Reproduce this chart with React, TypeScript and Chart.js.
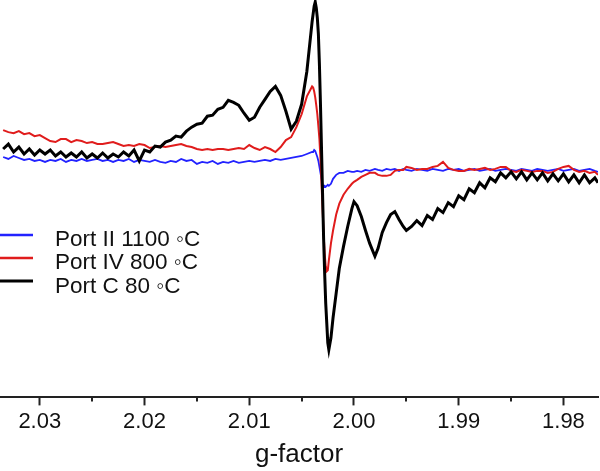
import React, { useEffect, useRef } from "react";
import { Chart, registerables } from "chart.js";

Chart.register(...registerables);

// g-factor sampling positions (x axis, reversed)
const gFactor = [
  2.0335, 2.033, 2.0325, 2.032, 2.0315, 2.031, 2.0305, 2.03, 2.0295, 2.029,
  2.0285, 2.028, 2.0275, 2.027, 2.0265, 2.026, 2.0255, 2.025, 2.0245, 2.024,
  2.0235, 2.023, 2.0225, 2.022, 2.0215, 2.021, 2.0205, 2.02, 2.0195, 2.019,
  2.0185, 2.018, 2.0175, 2.017, 2.0165, 2.016, 2.0155, 2.015, 2.0145, 2.014,
  2.0135, 2.013, 2.0125, 2.012, 2.0115, 2.011, 2.0105, 2.01, 2.0095, 2.009,
  2.0085, 2.008, 2.0075, 2.007, 2.0065, 2.006, 2.0055, 2.005, 2.0045, 2.004,
  2.0039, 2.0038, 2.0037, 2.0036, 2.0035, 2.0034, 2.0033, 2.0032, 2.0031, 2.003,
  2.0029, 2.0028, 2.0027, 2.0026, 2.0025, 2.0024,
  2.0022, 2.002, 2.0017, 2.0014, 2.001, 2.0006, 2.0002, 2.0, 1.9997, 1.9993,
  1.9989, 1.9985, 1.998, 1.9977, 1.9973, 1.9969, 1.9965, 1.9961, 1.9957, 1.9953, 1.995,
  1.9945, 1.994, 1.9935, 1.993, 1.9925, 1.992, 1.9915, 1.991, 1.9905, 1.99,
  1.9895, 1.989, 1.9885, 1.988, 1.9875, 1.987, 1.9865, 1.986, 1.9855, 1.985,
  1.9845, 1.984, 1.9835, 1.983, 1.9825, 1.982, 1.9815, 1.981, 1.9805, 1.98,
  1.9795, 1.979, 1.9785, 1.978, 1.9775, 1.977,
  1.9767,
];

// EPR signal (arbitrary units)
const portII = [
  2, 0, 3, 1, -1, 0, -2, -1, -3, -1,
  -2, 0, -3, -1, -2, 0, -2, -1, 0, -2,
  -1, -3, -1, -2, 0, -3, -1, -2, -3, -1,
  -3, -4, -2, -3, 0, -2, -1, -5, -3, -4,
  -2, -5, -3, -4, -2, -4, -3, -2, -3, -2,
  -1, -2, 0, -1, 0, 1, 2, 3, 5, 7,
  7, 9, 8, 5, 2, -2, -8, -14, -20, -26,
  -28, -27, -28, -27, -26, -27,
  -25, -20, -16, -14, -14, -12, -13, -13, -12, -13,
  -11, -12, -10, -11, -12, -10, -11, -10, -12, -10, -11,
  -12, -10, -11, -12, -10, -11, -12, -10, -11, -10,
  -12, -11, -10, -12, -11, -10, -12, -11, -10, -11,
  -12, -10, -11, -12, -10, -11, -12, -11, -10, -12,
  -11, -10, -12, -11, -10, -12,
  -13,
];

const portIV = [
  29, 27, 26, 28, 25, 26, 23, 24, 21, 18,
  17, 20, 20, 17, 19, 18, 16, 17, 15, 15,
  16, 17, 15, 13, 14, 13, 15, 14, 11, 12,
  13, 12, 13, 14, 15, 13, 12, 10, 9, 10,
  9, 10, 10, 9, 10, 11, 10, 14, 11, 9,
  12, 10, 7, 12, 19, 22, 32, 45, 63, 73,
  72, 68, 62, 54, 45, 33, 20, 0, -25, -50,
  -75, -95, -108, -113, -112, -102,
  -85, -72, -56, -45, -36, -30, -25, -23, -21, -18,
  -16, -14, -14, -16, -17, -17, -16, -12, -11, -11, -8,
  -9, -11, -10, -10, -8, -7, -3, -9, -11, -12,
  -12, -10, -11, -10, -9, -11, -10, -8, -8, -12,
  -13, -11, -12, -13, -12, -12, -14, -13, -10, -8,
  -7, -11, -13, -12, -14, -13,
  -16,
];

const portC = [
  10, 15, 7, 12, 5, 10, 4, 9, 5, 9,
  3, 7, 2, 6, 2, 7, 1, 5, 1, 6,
  1, 5, 2, 7, 3, 9, -2, 9, 7, 13,
  12, 17, 19, 23, 22, 28, 32, 35, 36, 43,
  44, 50, 52, 59, 57, 54, 46, 39, 42, 52,
  60, 68, 73, 64, 48, 30, 38, 55, 88, 138,
  146, 154, 158, 152, 142, 126, 95, 55, 10, -35,
  -80, -115, -145, -165, -185, -192,
  -180, -160, -135, -110, -88, -68, -50, -43, -47, -58,
  -72, -85, -98, -90, -74, -64, -56, -53, -61, -68, -72,
  -68, -62, -67, -57, -61, -50, -54, -44, -48, -37,
  -41, -30, -34, -24, -29, -19, -23, -14, -19, -13,
  -20, -13, -21, -14, -21, -14, -22, -15, -22, -15,
  -23, -16, -24, -16, -24, -19,
  -24,
];

const majorTicks = [2.03, 2.02, 2.01, 2.0, 1.99, 1.98];
const minorTicks = [2.025, 2.015, 2.005, 1.995, 1.985];
const seriesLabels = ["Port II 1100 \u25E6C", "Port IV 800 \u25E6C", "Port C 80 \u25E6C"];
const seriesColors = ["#2222ff", "#e01c1c", "#000000"];
const seriesWidths = [1.8, 2, 3];
const axisTitle = "g-factor";

const FONT = "'Liberation Sans', Arial, Helvetica, sans-serif";

const extrasPlugin = {
  id: "extras",
  afterDraw(chart: any) {
    const ctx = chart.ctx;
    const xs = chart.scales.x;
    ctx.save();
    // minor ticks
    ctx.strokeStyle = "#222";
    ctx.lineWidth = 2;
    minorTicks.forEach((v) => {
      const px = Math.round(xs.getPixelForValue(v));
      ctx.beginPath();
      ctx.moveTo(px, xs.top);
      ctx.lineTo(px, xs.top + 4);
      ctx.stroke();
    });
    // legend
    const lineY = [235, 258, 281];
    const textY = [246, 269, 293];
    ctx.font = `22.5px ${FONT}`;
    ctx.textBaseline = "alphabetic";
    ctx.textAlign = "left";
    seriesLabels.forEach((lab, i) => {
      ctx.strokeStyle = seriesColors[i];
      ctx.lineWidth = i === 2 ? 3 : 2.5;
      ctx.beginPath();
      ctx.moveTo(0, lineY[i]);
      ctx.lineTo(33, lineY[i]);
      ctx.stroke();
      ctx.fillStyle = "#111";
      ctx.fillText(lab, 55, textY[i]);
    });
    ctx.restore();
  },
};

export default function App() {
  const ref = useRef<HTMLCanvasElement | null>(null);
  useEffect(() => {
    if (!ref.current) return;
    const series = [portII, portIV, portC];
    const chart = new Chart(ref.current, {
      type: "line",
      data: {
        datasets: series.map((vals, i) => ({
          label: seriesLabels[i],
          data: gFactor.map((g, j) => ({ x: g, y: vals[j] })),
          borderColor: seriesColors[i],
          borderWidth: seriesWidths[i],
          pointRadius: 0,
          tension: 0,
          fill: false,
          order: 2 - i,
        })),
      },
      options: {
        responsive: false,
        animation: false,
        events: [],
        layout: { padding: { left: 0, right: 2, top: 0, bottom: 0 } },
        plugins: { legend: { display: false }, tooltip: { enabled: false } },
        scales: {
          x: {
            type: "linear",
            reverse: true,
            min: 1.9767,
            max: 2.0338,
            afterBuildTicks: (s: any) => {
              s.ticks = majorTicks.map((v) => ({ value: v }));
            },
            border: { display: true, color: "#222", width: 2 },
            grid: {
              drawOnChartArea: false,
              drawTicks: true,
              tickLength: 8,
              tickColor: "#222",
              tickWidth: 2,
            },
            ticks: {
              padding: 3,
              color: "#111",
              font: { family: FONT, size: 22 },
              maxRotation: 0,
              callback: (v: any) => Number(v).toFixed(2),
            },
            title: {
              display: true,
              text: axisTitle,
              color: "#111",
              font: { family: FONT, size: 26 },
              padding: { top: 1, bottom: 1 },
            },
          },
          y: { display: false, min: -240, max: 160 },
        },
      },
      plugins: [extrasPlugin],
    });
    return () => chart.destroy();
  }, []);
  return (
    <div style={{ position: "absolute", left: 0, top: 0, width: 600, height: 471, background: "#fff" }}>
      <canvas ref={ref} width={600} height={471} style={{ display: "block" }} />
    </div>
  );
}
